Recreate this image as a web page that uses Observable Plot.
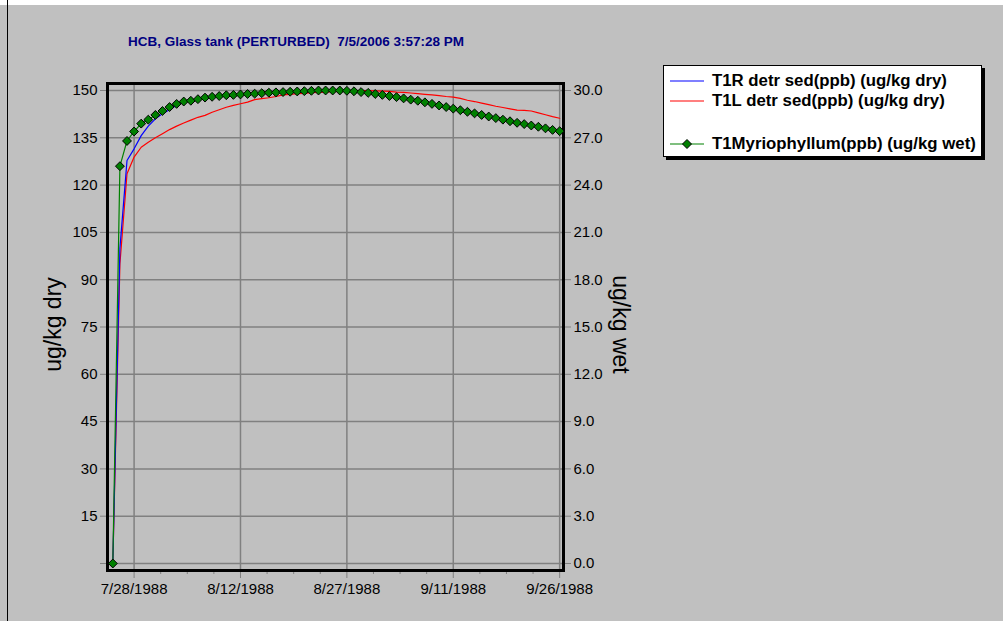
<!DOCTYPE html>
<html><head><meta charset="utf-8">
<script src="https://cdn.jsdelivr.net/npm/d3@7"></script>
<script src="https://cdn.jsdelivr.net/npm/@observablehq/plot@0.6"></script>
<style>
html,body{margin:0;padding:0;background:#c0c0c0;}
#wrap{position:relative;width:1003px;height:621px;overflow:hidden;background:#c0c0c0;font-family:"Liberation Sans",Arial,sans-serif;}
#topstrip{position:absolute;left:0;top:0;width:1003px;height:5px;background:#fff;}
#leftline{position:absolute;left:7px;top:0;width:1px;height:621px;background:#000;}
#chart{position:absolute;left:0;top:0;}
#title{position:absolute;left:128px;top:35px;color:#000080;font-weight:bold;font-size:13.5px;white-space:pre;line-height:14px;}
.ylab{position:absolute;width:200px;text-align:center;font-size:23px;line-height:23px;color:#000;white-space:nowrap;}
#ylabL{left:-47px;top:313px;transform:rotate(-90deg);}
#ylabR{left:520px;top:313px;transform:rotate(90deg);}
#legend{position:absolute;left:663px;top:65px;width:317px;height:90px;background:#fff;border:1px solid #000;box-shadow:3px 3px 0 #000;}
.lrow{position:absolute;left:0;height:16px;}
.lrow svg{position:absolute;left:6px;top:0;}
.lrow span{position:absolute;left:48px;top:-1px;font-weight:bold;font-size:16.8px;line-height:18px;white-space:nowrap;color:#000;}
</style></head>
<body><div id="wrap">
<div id="topstrip"></div>
<div id="leftline"></div>
<div id="chart"></div>
<div id="title">HCB, Glass tank (PERTURBED)  7/5/2006 3:57:28 PM</div>
<div class="ylab" id="ylabL">ug/kg dry</div>
<div class="ylab" id="ylabR">ug/kg wet</div>
<div id="legend"></div>
</div>
<script>
// daily sample dates
const dates = [
 "1988-07-25","1988-07-26","1988-07-27","1988-07-28","1988-07-29","1988-07-30","1988-07-31",
 "1988-08-01","1988-08-02","1988-08-03","1988-08-04","1988-08-05","1988-08-06","1988-08-07","1988-08-08","1988-08-09","1988-08-10",
 "1988-08-11","1988-08-12","1988-08-13","1988-08-14","1988-08-15","1988-08-16","1988-08-17","1988-08-18","1988-08-19","1988-08-20",
 "1988-08-21","1988-08-22","1988-08-23","1988-08-24","1988-08-25","1988-08-26","1988-08-27","1988-08-28","1988-08-29","1988-08-30","1988-08-31",
 "1988-09-01","1988-09-02","1988-09-03","1988-09-04","1988-09-05","1988-09-06","1988-09-07","1988-09-08","1988-09-09","1988-09-10",
 "1988-09-11","1988-09-12","1988-09-13","1988-09-14","1988-09-15","1988-09-16","1988-09-17","1988-09-18","1988-09-19","1988-09-20",
 "1988-09-21","1988-09-22","1988-09-23","1988-09-24","1988-09-25","1988-09-26"
];
// T1R detr sed (ug/kg dry)
const t1r = [0,100,127.8,131.5,135.7,138.7,141.0,
 142.6,143.9,145.3,146.4,146.8,147.2,147.7,148.0,148.2,148.5,148.6,148.7,148.9,149.0,149.1,149.3,149.4,149.5,149.6,149.7,149.8,149.9,150.0,150.0,150.0,150.0,149.9,149.8,149.5,149.3,148.9,
 148.6,148.3,147.9,147.5,147.1,146.8,146.3,145.8,145.3,144.8,144.3,143.8,143.3,142.8,142.3,141.8,141.3,140.8,140.3,139.8,139.4,138.9,138.5,138.0,137.5,137.1];
// T1L detr sed (ug/kg dry)
const t1l = [0,95,123.6,128.9,132.0,133.6,135.0,
 136.3,137.6,138.7,139.7,140.6,141.5,142.1,143.1,143.9,144.7,145.3,145.8,146.3,147.1,147.4,147.7,148.1,148.6,148.8,149.0,149.1,149.3,149.4,149.5,149.6,149.7,149.8,149.9,150.0,150.0,149.9,
 149.8,149.7,149.5,149.4,149.2,149.0,148.8,148.6,148.4,148.1,147.9,147.5,146.9,146.5,146.0,145.5,145.0,144.6,144.2,143.8,143.7,143.5,142.9,142.3,141.7,141.2];
// T1Myriophyllum (ug/kg wet)
const myrio = [0,25.2,26.8,27.4,27.9,28.15,28.45,
 28.7,28.95,29.15,29.3,29.35,29.45,29.55,29.6,29.65,29.7,29.72,29.75,29.78,29.8,29.83,29.86,29.88,29.9,29.92,29.94,29.96,29.98,30.0,30.0,30.0,30.0,29.98,29.95,29.9,29.85,29.78,
 29.72,29.65,29.58,29.5,29.42,29.35,29.25,29.15,29.05,28.95,28.85,28.75,28.65,28.55,28.45,28.35,28.25,28.15,28.05,27.95,27.87,27.78,27.7,27.6,27.5,27.42];

const leftTicks = [0,15,30,45,60,75,90,105,120,135,150];
const rightTickLabels = ["0.0","3.0","6.0","9.0","12.0","15.0","18.0","21.0","24.0","27.0","30.0"];
const majorTickDates = ["1988-07-28","1988-08-12","1988-08-27","1988-09-11","1988-09-26"];
const xStart = "1988-07-24T06:00Z", xEnd = "1988-09-26T13:00Z";
const yDomain = [-2.22, 152.22];
const wetToDry = 5;

const seriesNames = ["T1R detr sed(ppb) (ug/kg dry)","T1L detr sed(ppb) (ug/kg dry)","T1Myriophyllum(ppb) (ug/kg wet)"];
const seriesColors = ["#0000ff","#ff0000","#008000"];

const parse = s => new Date(s + (s.length === 10 ? "T00:00Z" : ""));
const rows = (vals, k) => dates.map((d, i) => ({date: parse(d), v: vals[i] * k}));
const dR = rows(t1r, 1), dL = rows(t1l, 1), dM = rows(myrio, wetToDry);
const majors = majorTickDates.map(parse);
const x0 = parse(xStart), x1 = parse(xEnd);
const quarter = (majors[1] - majors[0]) / 4;
const minors = [];
for (let i = 0; i < majors.length; i++) for (let q = 1; q < 4; q++) {
  const t = new Date(+majors[i] - q * quarter);
  if (t > x0) minors.push(t);
}
const fmt = d3.utcFormat("%-m/%-d/%Y");

const chart = Plot.plot({
  width: 1003, height: 621,
  marginLeft: 107, marginRight: 440, marginTop: 83, marginBottom: 51,
  style: {background: "transparent", fontFamily: "'Liberation Sans', Arial, sans-serif", fontSize: "15px", color: "#000"},
  x: {type: "utc", domain: [x0, x1]},
  y: {domain: yDomain},
  marks: [
    Plot.gridY(leftTicks, {stroke: "#808080", strokeOpacity: 1, strokeWidth: 1.5}),
    Plot.gridX(majors, {stroke: "#808080", strokeOpacity: 1, strokeWidth: 1.5}),
    Plot.axisY(leftTicks, {anchor: "left", tickSize: 7, tickPadding: 3, stroke: "#808080", strokeOpacity: 1, fill: "#000", tickFormat: d => d === 0 ? "" : String(d), label: null}),
    Plot.axisY(leftTicks, {anchor: "right", tickSize: 7, tickPadding: 3, stroke: "#808080", strokeOpacity: 1, fill: "#000", tickFormat: d => rightTickLabels[leftTicks.indexOf(d)], label: null}),
    Plot.axisX(majors, {anchor: "bottom", tickSize: 8, tickPadding: 5, stroke: "#808080", strokeOpacity: 1, fill: "#000", tickFormat: fmt, label: null}),
    Plot.axisX(minors, {anchor: "bottom", tickSize: 4, stroke: "#808080", strokeOpacity: 1, tickFormat: () => "", label: null}),
    Plot.frame({stroke: "#000", strokeWidth: 3}),
    Plot.lineY(dL, {x: "date", y: "v", stroke: seriesColors[1], strokeWidth: 1.2}),
    Plot.lineY(dR, {x: "date", y: "v", stroke: seriesColors[0], strokeWidth: 1.2}),
    Plot.lineY(dM, {x: "date", y: "v", stroke: seriesColors[2], strokeWidth: 1.2}),
    Plot.dot(dM, {x: "date", y: "v", symbol: "diamond2", r: 4, fill: seriesColors[2], stroke: "#000", strokeWidth: 1})
  ]
});
document.getElementById("chart").appendChild(chart);

// legend
const legend = document.getElementById("legend");
const rowTops = [7, 27, 70];
seriesNames.forEach((name, i) => {
  const row = document.createElement("div");
  row.className = "lrow";
  row.style.top = rowTops[i] + "px";
  const marker = i === 2 ? '<path d="M17,3.5 L21.5,8 L17,12.5 L12.5,8 Z" fill="#008000" stroke="#000" stroke-width="1"/>' : "";
  row.innerHTML = `<svg width="36" height="16"><line x1="0" x2="34" y1="8" y2="8" stroke="${seriesColors[i]}" stroke-width="1.2"/>${marker}</svg><span>${name}</span>`;
  legend.appendChild(row);
});
</script>
</body></html>
